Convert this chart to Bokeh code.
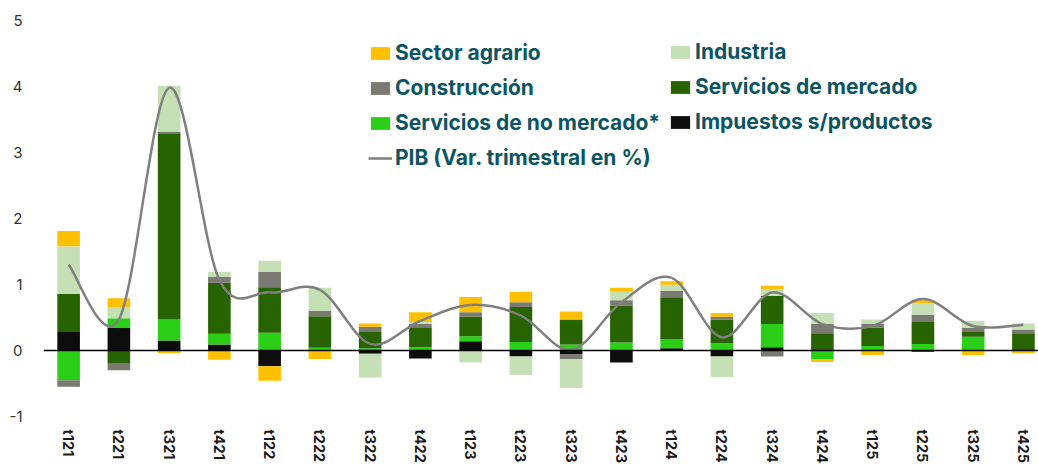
import numpy as np
from bokeh.plotting import figure
from bokeh.models import Range1d, FixedTicker, Span, Legend, LegendItem
from bokeh.embed import file_html
from bokeh.resources import INLINE

quarters = ["t121", "t221", "t321", "t421", "t122", "t222", "t322", "t422", "t123", "t223",
            "t323", "t423", "t124", "t224", "t324", "t424", "t125", "t225", "t325", "t425"]

pib = [1.30, 0.47, 3.98, 1.07, 0.88, 0.92, 0.10, 0.45, 0.69, 0.53,
       0.01, 0.73, 1.10, 0.20, 0.88, 0.40, 0.37, 0.78, 0.37, 0.39]

sector_agrario = [0.23, 0.14, -0.04, -0.14, -0.22, -0.13, 0.05, 0.15, 0.23, 0.16,
                  0.12, 0.06, 0.055, 0.06, 0.05, -0.045, -0.07, 0.04, -0.07, -0.04]
industria = [0.72, 0.16, 0.69, 0.08, 0.17, 0.35, -0.36, 0.03, -0.18, -0.28,
             -0.44, 0.13, 0.09, -0.31, 0.10, 0.17, 0.07, 0.18, 0.11, 0.09]
construccion = [-0.10, -0.10, 0.03, 0.09, 0.23, 0.08, 0.08, 0.06, 0.065, 0.07,
                -0.07, 0.08, 0.10, 0.04, -0.09, 0.14, 0.05, 0.11, 0.06, 0.06]
servicios_mercado = [0.58, -0.20, 2.82, 0.77, 0.69, 0.48, 0.245, 0.29, 0.30, 0.53,
                     0.38, 0.56, 0.63, 0.36, 0.43, 0.26, 0.28, 0.33, 0.07, 0.26]
servicios_no_mercado = [-0.45, 0.14, 0.32, 0.165, 0.27, 0.04, 0.035, 0.05, 0.075, 0.13,
                        0.09, 0.12, 0.14, 0.11, 0.35, -0.13, 0.07, 0.10, 0.21, 0.0]
impuestos = [0.28, 0.35, 0.15, 0.09, -0.24, 0.0, -0.05, -0.12, 0.14, -0.09,
             -0.06, -0.18, 0.035, -0.09, 0.05, 0.0, 0.0, -0.02, 0.0, 0.0]

y_ticks = [-1, 0, 1, 2, 3, 4, 5]
y_tick_labels = ["-1", "0", "1", "2", "3", "4", "5"]

FONT = "Inter"
n = len(quarters)
xs = np.arange(n)

p = figure(width=1038, height=468, output_backend="svg", toolbar_location=None,
           x_range=Range1d(-0.5, 19.3), y_range=Range1d(-1, 5),
           min_border_left=43, min_border_right=0, min_border_top=20, min_border_bottom=52)
p.outline_line_color = None
p.xgrid.visible = False
p.ygrid.visible = False

# stacked bars (order outward from zero)
layers = [
    ("Impuestos s/productos", impuestos, "#0d0d0d"),
    ("Servicios de no mercado*", servicios_no_mercado, "#2bcf18"),
    ("Servicios de mercado", servicios_mercado, "#276300"),
    ("Construcción", construccion, "#7a7a72"),
    ("Industria", industria, "#c5e0b4"),
    ("Sector agrario", sector_agrario, "#ffc000"),
]
pos = np.zeros(n)
neg = np.zeros(n)
rend = {}
for name, vals, color in layers:
    v = np.array(vals, dtype=float)
    bottom = np.where(v >= 0, pos, neg)
    top = bottom + v
    pos = np.where(v >= 0, top, pos)
    neg = np.where(v < 0, top, neg)
    rend[name] = p.vbar(x=xs, bottom=bottom, top=top, width=0.45,
                        fill_color=color, line_color=None)

p.add_layout(Span(location=0, dimension="width", line_color="black", line_width=1.3))

# smoothed PIB line via bezier segments (Catmull-Rom control points)
P = np.array(pib, dtype=float)
Pm = np.concatenate([[P[0]], P, [P[-1]]])
Xm = np.concatenate([[xs[0]], xs, [xs[-1]]]).astype(float)
i = np.arange(n - 1)
x0, y0 = xs[i].astype(float), P[i]
x1, y1 = xs[i + 1].astype(float), P[i + 1]
cx0 = x0 + (Xm[i + 2] - Xm[i]) / 6.0
cy0 = y0 + (Pm[i + 2] - Pm[i]) / 6.0
cx1 = x1 - (Xm[i + 3] - Xm[i + 1]) / 6.0
cy1 = y1 - (Pm[i + 3] - Pm[i + 1]) / 6.0
line_r = p.bezier(x0=x0, y0=y0, x1=x1, y1=y1, cx0=cx0, cy0=cy0, cx1=cx1, cy1=cy1,
                  line_color="#7f7f7f", line_width=2.5)

# axes
p.xaxis.ticker = FixedTicker(ticks=list(xs))
p.xaxis.major_label_overrides = {int(k): q for k, q in zip(xs, quarters)}
p.xaxis.major_label_orientation = "vertical"
p.xaxis.axis_line_color = None
p.xaxis.major_tick_line_color = None
p.xaxis.minor_tick_line_color = None
p.xaxis.major_tick_out = 0
p.xaxis.major_tick_in = 0
p.xaxis.major_label_standoff = 13
p.xaxis.major_label_text_font = FONT
p.xaxis.major_label_text_font_style = "bold"
p.xaxis.major_label_text_font_size = "14.5px"
p.xaxis.major_label_text_color = "#1a1a1a"

p.yaxis.ticker = FixedTicker(ticks=y_ticks)
p.yaxis.major_label_overrides = {t: s for t, s in zip(y_ticks, y_tick_labels)}
p.yaxis.axis_line_color = None
p.yaxis.major_tick_line_color = None
p.yaxis.minor_tick_line_color = None
p.yaxis.major_tick_out = 0
p.yaxis.major_tick_in = 0
p.yaxis.major_label_standoff = 21
p.yaxis.major_label_text_font = FONT
p.yaxis.major_label_text_font_size = "15px"
p.yaxis.major_label_text_color = "#333333"


def make_legend(items, loc):
    leg = Legend(items=items, location=loc, orientation="vertical",
                 label_text_font=FONT, label_text_font_style="bold",
                 label_text_font_size="21px", label_text_color="#0b5563",
                 glyph_width=24, glyph_height=16, label_standoff=3,
                 label_height=16, spacing=10, padding=0, margin=0,
                 border_line_color=None, background_fill_alpha=0)
    return leg


leg1 = make_legend([
    LegendItem(label="Sector agrario", renderers=[rend["Sector agrario"]]),
    LegendItem(label="Construcción", renderers=[rend["Construcción"]]),
    LegendItem(label="Servicios de no mercado*", renderers=[rend["Servicios de no mercado*"]]),
    LegendItem(label="PIB (Var. trimestral en %)", renderers=[line_r]),
], (325, 246))
leg2 = make_legend([
    LegendItem(label="Industria", renderers=[rend["Industria"]]),
    LegendItem(label="Servicios de mercado", renderers=[rend["Servicios de mercado"]]),
    LegendItem(label="Impuestos s/productos", renderers=[rend["Impuestos s/productos"]]),
], (625, 282))
p.add_layout(leg1, "center")
p.add_layout(leg2, "center")

open("out.html", "w").write(file_html(p, INLINE))
